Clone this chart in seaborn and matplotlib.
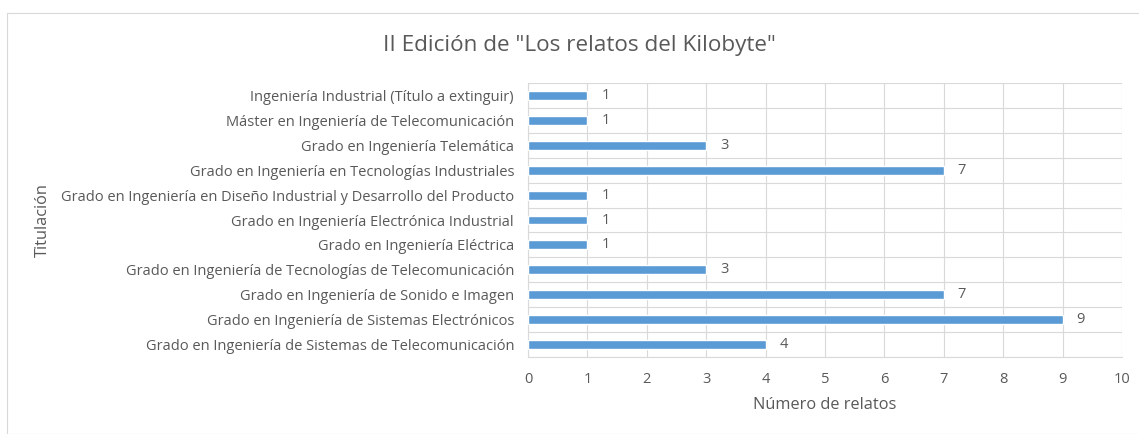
import matplotlib
matplotlib.use("Agg")
import matplotlib.pyplot as plt
import seaborn as sns
import pandas as pd
from matplotlib.patches import Rectangle
from matplotlib.ticker import MultipleLocator

titulaciones = [
    "Ingeniería Industrial (Título a extinguir)",
    "Máster en Ingeniería de Telecomunicación",
    "Grado en Ingeniería Telemática",
    "Grado en Ingeniería en Tecnologías Industriales",
    "Grado en Ingeniería en Diseño Industrial y Desarrollo del Producto",
    "Grado en Ingeniería Electrónica Industrial",
    "Grado en Ingeniería Eléctrica",
    "Grado en Ingeniería de Tecnologías de Telecomunicación",
    "Grado en Ingeniería de Sonido e Imagen",
    "Grado en Ingeniería de Sistemas Electrónicos",
    "Grado en Ingeniería de Sistemas de Telecomunicación",
]
relatos = [1, 1, 3, 7, 1, 1, 1, 3, 7, 9, 4]
x_ticks = list(range(0, 11))

sns.set_theme(style="white")
plt.rcParams['font.family'] = ['Open Sans', 'DejaVu Sans']

TXT = "#595959"
GRID = "#D9D9D9"
BAR = "#5B9BD5"

df = pd.DataFrame({"Titulación": titulaciones, "Número de relatos": relatos})

fig = plt.figure(figsize=(11.39, 4.34), dpi=100)
ax = fig.add_axes([528/1139, 1-357/434, (1122-528)/1139, (357-83)/434])

sns.barplot(data=df, y="Titulación", x="Número de relatos", order=titulaciones,
            color=BAR, width=0.36, saturation=1, ax=ax, zorder=3)

ax.set_xlim(0, 10)
ax.set_ylim(len(titulaciones) - 0.5, -0.5)
ax.set_xticks(x_ticks)
ax.set_xticklabels([str(t) for t in x_ticks])
ax.yaxis.set_minor_locator(MultipleLocator(1, offset=0.5))
ax.grid(True, axis="x", which="major", color=GRID, linewidth=0.8, zorder=0)
ax.grid(True, axis="y", which="minor", color=GRID, linewidth=0.8, zorder=0)
ax.grid(False, axis="y", which="major")
ax.set_axisbelow(True)
for s in ["top", "right"]:
    ax.spines[s].set_visible(False)
for s in ["left", "bottom"]:
    ax.spines[s].set_color(GRID)
    ax.spines[s].set_linewidth(0.8)
ax.tick_params(axis="both", which="both", length=0, colors=TXT)
ax.tick_params(axis="x", labelsize=10.5, pad=11)
ax.tick_params(axis="y", labelsize=10.5, pad=10)

for c in ax.containers:
    ax.bar_label(c, labels=[str(v) for v in relatos], padding=10, fontsize=10.5, color=TXT)

ax.set_xlabel("Número de relatos", fontsize=11.8, color=TXT, labelpad=7)
ax.set_ylabel("")
fig.text(43/1139, 1-220/434, "Titulación", rotation=90, ha="center", va="center",
         fontsize=11.8, color=TXT)

fig.text(579/1139, 1-46/434, 'II Edición de "Los relatos del Kilobyte"', ha="center",
         va="center", fontsize=16.2, color=TXT)

fig.patches.append(Rectangle((7/1139, 0), 1.2, 1-13/434, transform=fig.transFigure,
                             fill=False, edgecolor=GRID, linewidth=0.8))

fig.savefig("out.png", dpi=100)
